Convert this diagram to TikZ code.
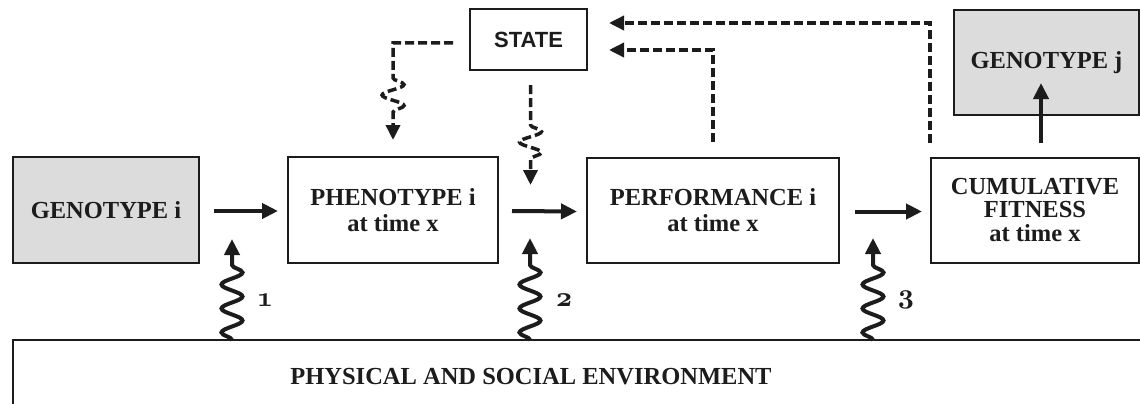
\documentclass[tikz,border=0pt]{standalone}
\usepackage{fontspec}
\newfontfamily\statefont{Liberation Sans}
\newfontfamily\boxfont{Liberation Serif}
\newfontfamily\numfont{lmroman10-bold.otf}[Numbers=OldStyle]
\usetikzlibrary{arrows.meta,decorations.pathmorphing,calc}
\definecolor{boxgrey}{RGB}{220,220,220}
\definecolor{ink}{RGB}{28,28,28}

\begin{document}
\begin{tikzpicture}[x=1pt,y=-1pt,
  every node/.style={font=\boxfont\bfseries\fontsize{24.5}{23}\selectfont, text=ink},
  box/.style={draw=ink, line width=2pt, outer sep=0pt, inner sep=0pt,
    anchor=north west, align=center},
  genebox/.style={box, fill=boxgrey},
  numlabel/.style={font=\numfont\fontsize{28}{30}\selectfont},
  flow/.style={draw=ink, line width=4pt, -{Triangle[length=16pt,width=15pt]}},
  envwave/.style={flow, decorate,
    decoration={snake, segment length=24pt, amplitude=10.5pt, post length=18pt}},
  feedback/.style={draw=ink, line width=3.5pt, dash pattern=on 9pt off 4pt,
    -{Triangle[length=15pt,width=14pt]}},
  feedwave/.style={feedback, decorate,
    decoration={snake, segment length=21pt, amplitude=11pt,
      pre length=#1, post length=18pt}},
]
\clip (0,0) rectangle (1140,404);

% main boxes
\node[genebox, minimum width=186pt, minimum height=106pt] (geni) at (13,157) {GENOTYPE i};
\node[box, minimum width=210pt, minimum height=106pt] (phen) at (288,157) {PHENOTYPE i\\[3pt]at time x};
\node[box, minimum width=252pt, minimum height=105pt] (perf) at (587,158) {PERFORMANCE i\\[3pt]at time x};
\node[box, minimum width=208pt, minimum height=105pt] (cum) at (931,158) {CUMULATIVE\\FITNESS\\[1pt]at time x};
\node[genebox, minimum width=185pt, minimum height=105pt] (genj) at (954,10) {GENOTYPE j};
\node[box, minimum width=117pt, minimum height=61pt,
  font=\statefont\bfseries\fontsize{22}{24}\selectfont] (state) at (470,9) {STATE};

% environment strip
\node[box, minimum width=1150pt, minimum height=90pt] (env) at (13,340) {};
\node (envtext) at ($(env.north west)+(518,37)$) {PHYSICAL AND SOCIAL ENVIRONMENT};

% causal chain
\draw[flow] ($(geni.east)+(15,1)$) -- ($(phen.west)+(-10,1)$);
\draw[flow] ($(phen.east)+(14,1)$) -- ($(perf.west)+(-10,1)$);
\draw[flow] ($(perf.east)+(16,1)$) -- ($(cum.west)+(-9,1)$);
\draw[flow] ($(cum.north)+(6,-15)$) -- ($(genj.south)+(-5.5,-32)$);

% environmental influences
\coordinate (w1) at ($(env.north west)+(219,0)$);
\coordinate (w2) at ($(env.north west)+(517,0)$);
\coordinate (w3) at ($(env.north west)+(860,0)$);
\coordinate (t1) at ($(w1)+(0,-101)$);
\coordinate (t2) at ($(w2)+(0,-102)$);
\coordinate (t3) at ($(w3)+(0,-102)$);
\draw[envwave] (w1) -- (t1);
\draw[envwave] (w2) -- (t2);
\draw[envwave] (w3) -- (t3);
\node[numlabel] (n1) at (265,300) {1};
\node[numlabel] (n2) at (564,300) {2};
\node[numlabel] (n3) at (906,300) {3};

% state feedback
\draw[feedback] ($(cum.north west)+(-1,-15)$) |- ($(state.east)+(22,-16.5)$);
\draw[feedback] ($(perf.north)+(0,-16)$) |- ($(state.east)+(22,10.5)$);
\draw[feedwave=95pt] ($(state.west)+(-17,3.5)$) -| ($(phen.north)+(0,-17)$);
\coordinate (ts) at ($(state.south)+(2,115)$);
\draw[feedwave=40pt] ($(state.south)+(2,15)$) -- (ts);
\end{tikzpicture}
\end{document}
